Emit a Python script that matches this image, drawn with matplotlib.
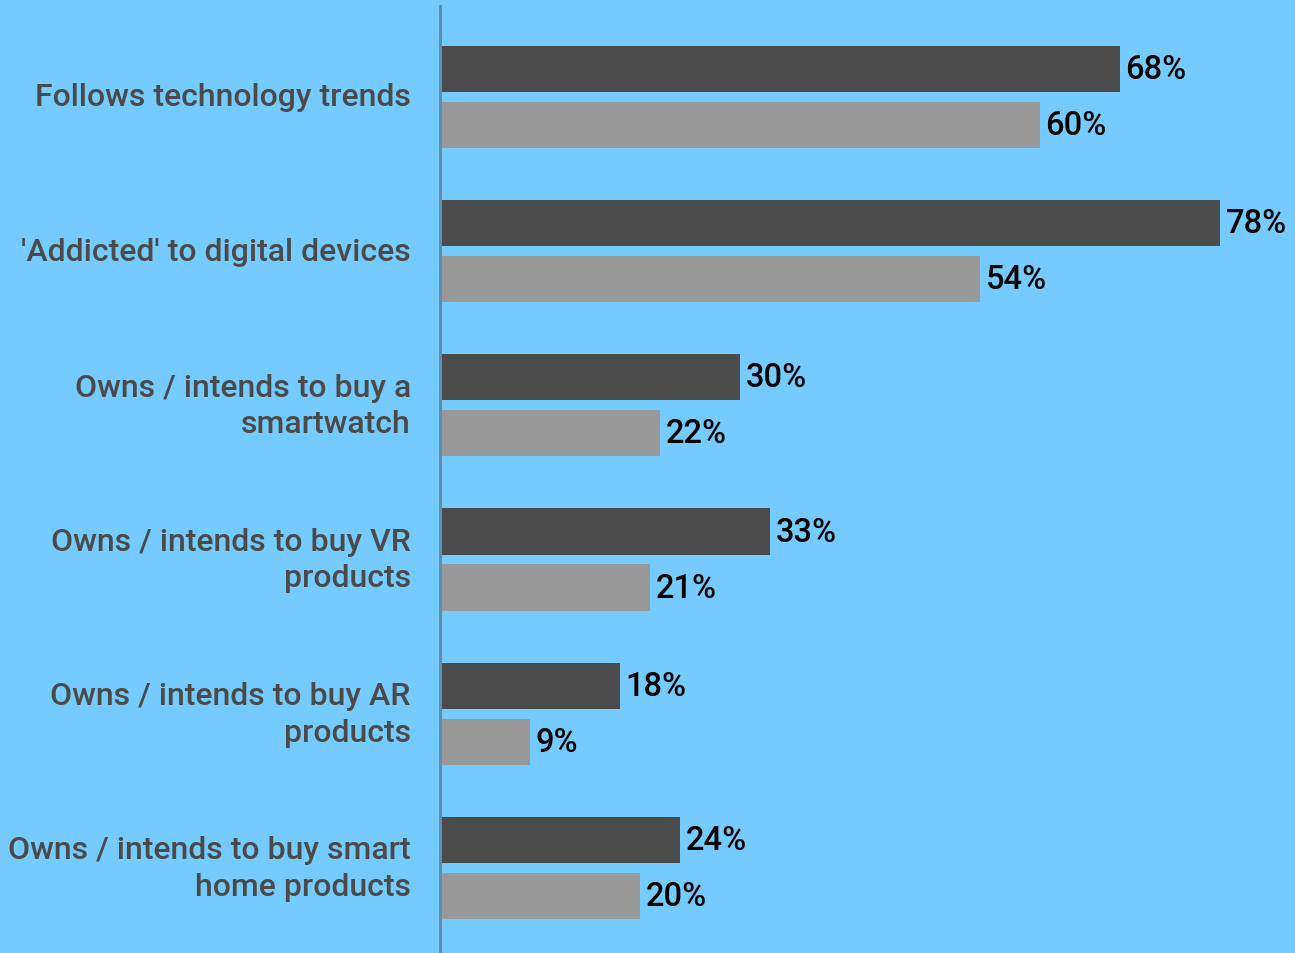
import matplotlib
matplotlib.use("Agg")
import matplotlib.pyplot as plt
import numpy as np

categories = [
    "Follows technology trends",
    "'Addicted' to digital devices",
    "Owns / intends to buy a\nsmartwatch",
    "Owns / intends to buy VR\nproducts",
    "Owns / intends to buy AR\nproducts",
    "Owns / intends to buy smart\nhome products",
]
series_dark = [68, 78, 30, 33, 18, 24]
series_light = [60, 54, 22, 21, 9, 20]

BG = "#75CBFD"
DARK = "#4B4B4B"
LIGHT = "#999999"

plt.rcParams["font.family"] = ["Roboto", "DejaVu Sans"]

DPI = 100
W, H = 1295, 954
fig = plt.figure(figsize=(W / DPI, H / DPI), dpi=DPI, facecolor=BG)

left_px, top_px = 440, 7
ax = fig.add_axes([left_px / W, 0, 1 - left_px / W, 1 - top_px / H])
ax.set_facecolor(BG)

y = np.arange(len(categories))
h = 0.30
off = 0.1816
ax.barh(y - off, series_dark, height=h, color=DARK, zorder=2)
ax.barh(y + off, series_light, height=h, color=LIGHT, zorder=2)

for yi, v in zip(y - off, series_dark):
    ax.annotate(f"{v}%", (v, yi), xytext=(4, 0), textcoords="offset points",
                va="center", ha="left", fontsize=23.5, fontweight="medium", color="black")
for yi, v in zip(y + off, series_light):
    ax.annotate(f"{v}%", (v, yi), xytext=(4, 0), textcoords="offset points",
                va="center", ha="left", fontsize=23.5, fontweight="medium", color="black")

ax.set_xlim(0, 85.5)
ax.set_ylim(5.5513, -0.5897)
ax.set_xticks([])
ax.set_yticks(y)
ax.set_yticklabels(categories, fontsize=23, fontweight="medium", color="#4A4A4A",
                   ha="right", linespacing=1.33)
for lbl in ax.get_yticklabels():
    lbl.set_va("center")
ax.tick_params(axis="y", length=0, pad=21)

for s in ["top", "right", "bottom"]:
    ax.spines[s].set_visible(False)
ax.spines["left"].set_color("#5E8FAE")
ax.spines["left"].set_linewidth(2.2)

fig.savefig("out.png", dpi=DPI, facecolor=BG)
